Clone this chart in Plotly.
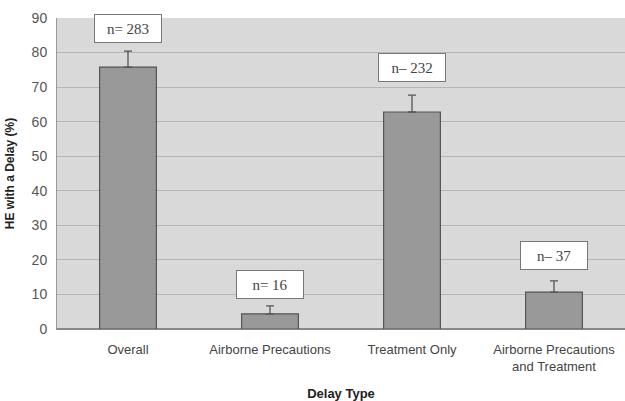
import plotly.graph_objects as go

categories = ["Overall", "Airborne Precautions", "Treatment Only", "Airborne Precautions<br>and Treatment"]
values = [75.8, 4.4, 62.8, 10.7]
errors = [4.6, 2.3, 4.9, 3.2]
n_labels = ["n= 283", "n= 16", "n\u2013 232", "n\u2013 37"]
label_offsets = [6.6, 6.3, 8.0, 7.4]

fig = go.Figure()
fig.add_trace(go.Bar(
    x=categories, y=values,
    width=0.4,
    marker=dict(color="#999999", line=dict(color="#555555", width=1.2)),
    error_y=dict(type="data", symmetric=False, array=errors, arrayminus=[0]*4,
                 color="#555555", thickness=1.3, width=4),
))

for c, v, e, lab, off in zip(categories, values, errors, n_labels, label_offsets):
    fig.add_annotation(
        x=c, y=v + e + off, text=lab, showarrow=False,
        font=dict(family="Liberation Serif, Times New Roman, serif", size=15, color="#444444"),
        bgcolor="white", bordercolor="#777777", borderwidth=1, borderpad=3,
        width=60, height=21,
    )

fig.update_layout(
    width=625, height=401,
    margin=dict(l=57, r=0, t=18, b=72),
    paper_bgcolor="white",
    plot_bgcolor="#d9d9d9",
    showlegend=False,
    font=dict(family="Liberation Sans, Arial, sans-serif", size=13, color="#444444"),
    xaxis=dict(
        title=dict(text="<b>Delay Type</b>", font=dict(size=13, color="#222222"), standoff=16),
        showline=True, linecolor="#888888", linewidth=1,
        tickfont=dict(size=13, color="#444444"),
        ticks="", ticklabelstandoff=8,
    ),
    yaxis=dict(
        title=dict(text="<b>HE with a Delay (%)</b>", font=dict(size=12, color="#222222"), standoff=14),
        range=[0, 90], dtick=10,
        showgrid=True, gridcolor="#b5b5b5", gridwidth=1,
        showline=True, linecolor="#999999", linewidth=1,
        zeroline=True, zerolinecolor="#888888",
        tickfont=dict(size=14, color="#555555"),
        ticks="", ticklabelstandoff=6,
    ),
)

fig.write_html("out.html")
